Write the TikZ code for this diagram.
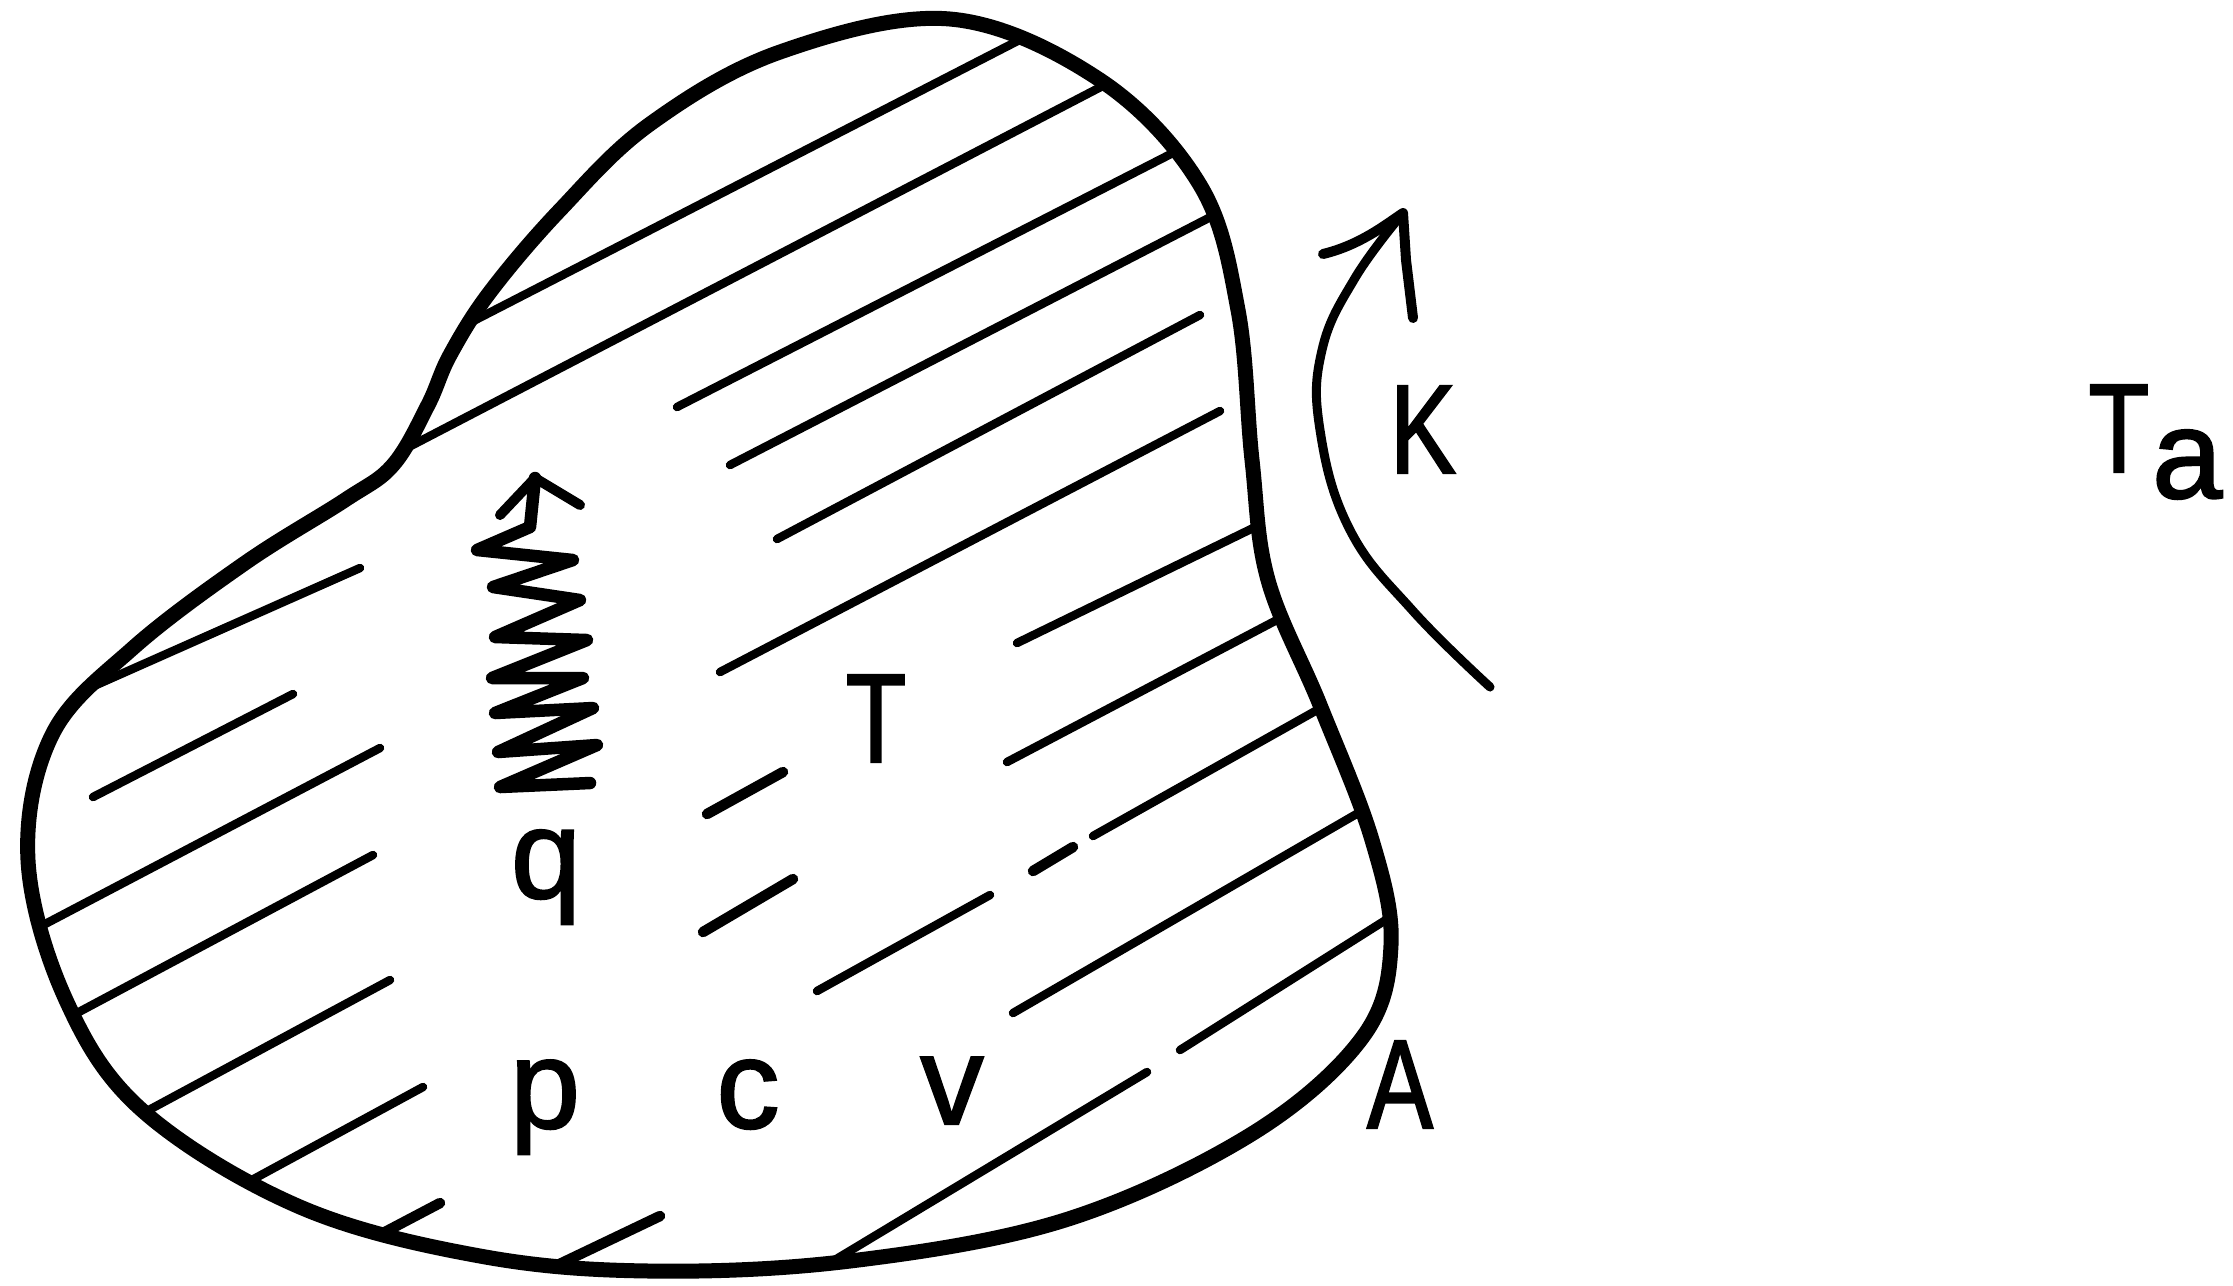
\documentclass[tikz,border=0pt]{standalone}
\usepackage{fontspec}
\setmainfont{Liberation Sans}[FakeBold=1.6]
\newfontfamily\capfont{Liberation Sans}[FakeStretch=0.78,FakeBold=1.6]
\begin{document}
\begin{tikzpicture}[x=0.1mm,y=-0.1mm,
  outl/.style={line width=1.5mm, line join=round},
  hatch/.style={line width=0.85mm, line cap=round},
  dashbit/.style={line width=1.05mm, line cap=round},
  zig/.style={line width=1.25mm, line join=round, line cap=round},
  karc/.style={line width=0.9mm, line cap=round, line join=round},
  extL/.style={shorten <=-6mm},
  extR/.style={shorten >=-6mm},
  lbl/.style={inner sep=0pt, anchor=base, font=\fontsize{36}{36}\selectfont}]
\useasboundingbox (0,0) rectangle (2233,1285);
\path[save path=\blobpath] plot[smooth cycle, tension=0.6] coordinates {
 (950,19) (1100,80) (1200,185) (1238,310) (1252,460) (1268,580) (1320,705)
 (1372,840) (1391,945) (1362,1038) (1250,1135) (1065,1220) (850,1261)
 (650,1271) (480,1256) (300,1207) (143,1111) (66,1000) (28,860) (52,735)
 (133,648) (245,563) (345,500) (393,465) (428,405) (450,355) (490,292)
 (560,210) (650,124) (780,52)};
% hatching
\begin{scope}
 \clip[use path=\blobpath];
 \draw[hatch,extL,extR] (485,315) -- (1000,50);
 \draw[hatch,extL,extR] (403,450) -- (1093,91);
 \draw[hatch,extR] (677,407) -- (1163,158);
 \draw[hatch,extR] (730,465) -- (1197,224);
 \draw[hatch] (777,539) -- (1200,315);
 \draw[hatch] (720,672) -- (1220,411);
 \draw[hatch,extR] (1017,643) -- (1247,531);
 \draw[hatch,extR] (1007,762) -- (1273,622);
 \draw[hatch,extR] (1093,836) -- (1310,714);
 \draw[dashbit] (1033,871) -- (1073,847);
 \draw[hatch] (817,991) -- (990,895);
 \draw[hatch,extR] (1013,1013) -- (1353,816);
 \draw[hatch,extR] (1180,1050) -- (1373,928);
 \draw[hatch,extL] (843,1255) -- (1147,1072);
 \draw[dashbit] (707,814) -- (783,772);
 \draw[dashbit] (703,932) -- (793,879);
 \draw[dashbit,extL] (570,1259) -- (660,1216);
 \draw[hatch,extL] (130,670) -- (360,568);
 \draw[hatch] (93,797) -- (293,694);
 \draw[hatch,extL] (47,923) -- (380,748);
 \draw[hatch,extL] (77,1013) -- (373,855);
 \draw[hatch,extL] (147,1111) -- (390,980);
 \draw[hatch,extL] (250,1181) -- (423,1087);
 \draw[dashbit,extL] (383,1233) -- (440,1203);
\end{scope}
\draw[outl, use path=\blobpath];
% zigzag arrow (heat q)
\draw[zig] (535,478) -- (530,527) -- (477,550) -- (573,560) -- (493,587)
 -- (580,600) -- (495,637) -- (587,640) -- (492,678) -- (583,678)
 -- (495,713) -- (593,708) -- (498,752) -- (597,745) -- (500,787) -- (590,783);
\draw[zig, line width=1.0mm] (500,515) -- (535,478) -- (580,505);
% K arrow
\draw[karc] plot[smooth, tension=0.7] coordinates {(1490,687) (1413,611)
 (1350,530) (1320,430) (1322,350) (1355,278) (1403,213)};
\draw[karc, line width=1.0mm] (1323,254) .. controls (1360,245) and (1385,225) .. (1403,213)
 -- (1406,260) -- (1413,318);
% labels
\node[lbl] (T) at (876,762) {\capfont T};
\node[lbl] (q) at (546,898) {q};
\node[lbl] (p) at (545,1128) {p};
\node[lbl] (c) at (748,1128) {c};
\node[lbl] (v) at (952,1124) {v};
\node[lbl] (A) at (1400,1128) {\capfont A};
\node[lbl] (K) at (1423,473) {\capfont K};
\node[lbl, anchor=base west] (Ta) at (2088,472) {{\capfont T}\kern0.3mm\raisebox{-2.6mm}{a}};
\end{tikzpicture}
\end{document}
